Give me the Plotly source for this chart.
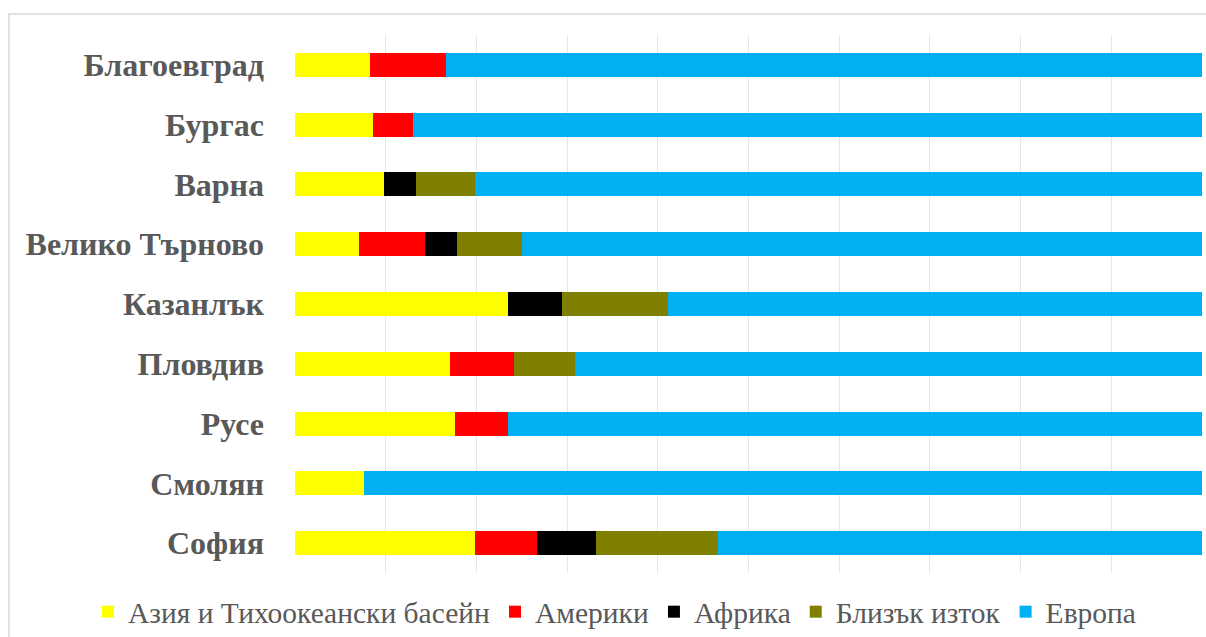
import plotly.graph_objects as go

cities = ["Благоевград", "Бургас", "Варна", "Велико Търново", "Казанлък",
          "Пловдив", "Русе", "Смолян", "София"]
series_names = ["Азия и Тихоокеански басейн", "Америки", "Африка", "Близък изток", "Европа"]
asia = [8.3, 8.6, 9.8, 7.1, 23.5, 17.1, 17.6, 7.6, 19.9]
americas = [8.4, 4.4, 0.0, 7.2, 0.0, 7.0, 5.9, 0.0, 6.8]
africa = [0.0, 0.0, 3.5, 3.6, 5.9, 0.0, 0.0, 0.0, 6.5]
middle_east = [0.0, 0.0, 6.6, 7.1, 11.7, 6.8, 0.0, 0.0, 13.4]
europe = [83.3, 87.0, 80.1, 75.0, 58.9, 69.1, 76.5, 92.4, 53.4]
colors = ["#FFFF00", "#FF0000", "#000000", "#808000", "#00B0F0"]

fig = go.Figure()
for name, vals, col in zip(series_names, [asia, americas, africa, middle_east, europe], colors):
    fig.add_trace(go.Bar(y=cities, x=vals, name=name, orientation="h",
                         marker=dict(color=col, line=dict(width=0))))

W, H = 1206, 637
ml, mr, mt, mb = 295, 4, 35, 64
pw, ph = W - ml - mr, H - mt - mb

def px_x(p):
    return (p - ml) / pw

def px_y(p):
    return (H - mb - p) / ph

fig.update_layout(
    width=W, height=H,
    margin=dict(l=ml, r=mr, t=mt, b=mb, autoexpand=False),
    barmode="stack", bargap=0.6,
    paper_bgcolor="white", plot_bgcolor="white",
    font=dict(family="Liberation Serif", color="#595959"),
    xaxis=dict(range=[0, 100], dtick=10, showgrid=True, gridcolor="#e6e6e6",
               gridwidth=1, showticklabels=False, zeroline=False, showline=False,
               fixedrange=True),
    yaxis=dict(autorange="reversed", showgrid=False, zeroline=False, showline=False,
               ticks="", ticklabelstandoff=30,
               tickfont=dict(family="Liberation Serif", size=32, color="#595959",
                             weight="bold")),
    legend=dict(orientation="h", x=px_x(88), xanchor="left", y=px_y(612),
                yanchor="middle", font=dict(family="Liberation Serif", size=29.5,
                                            color="#595959"),
                itemwidth=30, traceorder="normal", bgcolor="rgba(0,0,0,0)"),
    showlegend=True,
    shapes=[dict(type="rect", xref="paper", yref="paper",
                 x0=px_x(9), x1=px_x(1212), y0=px_y(643), y1=px_y(14),
                 line=dict(color="#d9d9d9", width=1.5), fillcolor="rgba(0,0,0,0)",
                 layer="below")],
)

fig.write_html("out.html")
